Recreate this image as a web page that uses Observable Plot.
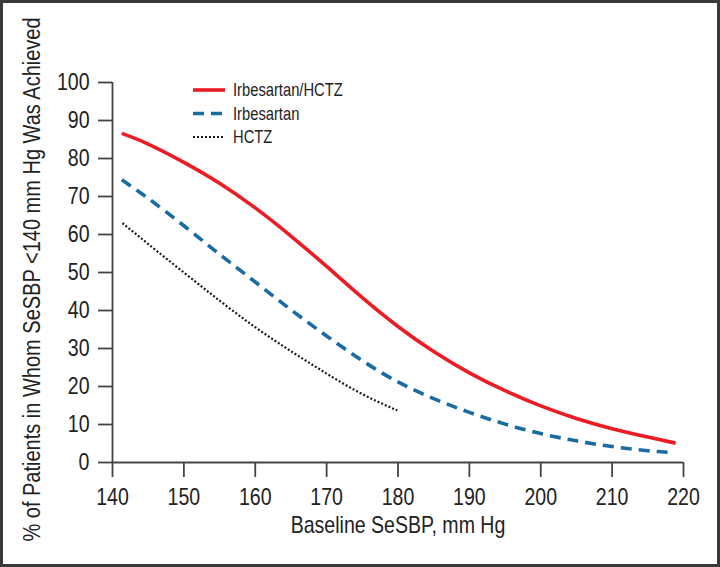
<!DOCTYPE html>
<html><head><meta charset="utf-8">
<script src="https://cdn.jsdelivr.net/npm/d3@7"></script>
<script src="https://cdn.jsdelivr.net/npm/@observablehq/plot@0.6"></script>
<style>
body{margin:0;background:#fff;}
#wrap{position:relative;width:720px;height:567px;box-sizing:border-box;border:3px solid #3a3a3a;background:#fff;overflow:hidden;font-family:"Liberation Sans",Arial,sans-serif;color:#222;}
#legend{position:absolute;left:185px;top:74px;}
</style></head><body><div id="wrap"><div id="legend"></div></div>
<script>
// Data
const seriesNames = ["Irbesartan/HCTZ", "Irbesartan", "HCTZ"];
const comboX = [141.3,145,150,155,160,165,170,175,180,185,190,195,200,205,210,215,218.9];
const comboY = [86.6,83.8,79,73.5,67,59.6,51.6,43.4,35.8,29.2,23.6,18.9,14.9,11.6,8.9,6.7,5.1];
const irbX = [141.3,145,150,155,160,165,170,175,180,185,190,195,200,205,210,215,217.9];
const irbY = [74.4,69.5,62.3,54.8,47.5,40.2,33.3,26.8,21.2,16.8,13.2,10.1,7.6,5.7,4.2,3.1,2.7];
const hctzX = [141.4,145,150,155,160,165,170,175,179.9];
const hctzY = [63,57.5,50,42.6,35.6,29.3,23.4,18,13.7];
const xTicks = [140,150,160,170,180,190,200,210,220];
const yTicks = [0,10,20,30,40,50,60,70,80,90,100];
const xLabel = "Baseline SeSBP, mm Hg";
const yLabel = "% of Patients in Whom SeSBP <140 mm Hg Was Achieved";

const colors = ["#ec1c24", "#1b6ba3", "#1a1a1a"];
const widths = [3.6, 3.6, 2.2];
const dashes = [null, "11,7", "2,2"];

const toRows = (xs, ys, s) => xs.map((x, i) => ({x, y: ys[i], s}));
const rows = [
  toRows(comboX, comboY, seriesNames[0]),
  toRows(irbX, irbY, seriesNames[1]),
  toRows(hctzX, hctzY, seriesNames[2])
];

const font = '"Liberation Sans",Arial,sans-serif';
const axisColor = "#444";

const chart = Plot.plot({
  width: 714, height: 561,
  marginLeft: 109, marginRight: 34, marginTop: 79, marginBottom: 102,
  style: {fontFamily: font, fontSize: "23px", color: "#222", background: "transparent", overflow: "visible"},
  x: {domain: [140, 220]},
  y: {domain: [0, 100]},
  marks: [
    Plot.axisX({ticks: xTicks, tickSize: 15, tickPadding: 11, label: null, stroke: axisColor, strokeWidth: 1.8, strokeOpacity: 1, fontSize: 23, fill: "#222"}),
    Plot.axisY({ticks: yTicks, tickSize: 14, tickPadding: 9, label: null, stroke: axisColor, strokeWidth: 1.8, strokeOpacity: 1, fontSize: 23, fill: "#222"}),
    Plot.ruleX([140], {stroke: axisColor, strokeWidth: 1.8}),
    Plot.ruleY([0], {stroke: axisColor, strokeWidth: 1.8}),
    ...rows.map((r, i) => Plot.line(r, {x: "x", y: "y", curve: "natural", stroke: colors[i], strokeWidth: widths[i], strokeDasharray: dashes[i], strokeLinecap: "butt"})),
    Plot.text([xLabel], {frameAnchor: "bottom", dy: 70.5, fontSize: 23, fill: "#222"}),
    Plot.text([yLabel], {frameAnchor: "left", textAnchor: "middle", rotate: -90, dx: -80, dy: 7, fontSize: 23, fill: "#222"})
  ]
});
document.getElementById("wrap").prepend(chart);

// Legend
const lg = d3.select("#legend").append("svg").attr("width", 200).attr("height", 80);
seriesNames.forEach((name, i) => {
  const cy = 13 + i * 23.5;
  lg.append("line").attr("x1", 5).attr("x2", 37).attr("y1", cy).attr("y2", cy)
    .attr("stroke", colors[i]).attr("stroke-width", widths[i])
    .attr("stroke-dasharray", dashes[i]);
  lg.append("text").attr("x", 45).attr("y", cy).attr("dy", "0.35em")
    .attr("font-family", font).attr("font-size", 18).attr("fill", "#222").text(name);
});

// Horizontally condense every text around its own anchor (reference uses a condensed typeface)
document.querySelectorAll("#wrap text").forEach(t => {
  const s = t.textContent === yLabel ? 0.87 : (t.closest("#legend") ? 0.82 : 0.85);
  const x = +t.getAttribute("x") || 0, y = +t.getAttribute("y") || 0;
  const tr = t.getAttribute("transform") || "";
  t.setAttribute("transform", `${tr} translate(${x},${y}) scale(${s},1) translate(${-x},${-y})`);
});
</script>
</body></html>
